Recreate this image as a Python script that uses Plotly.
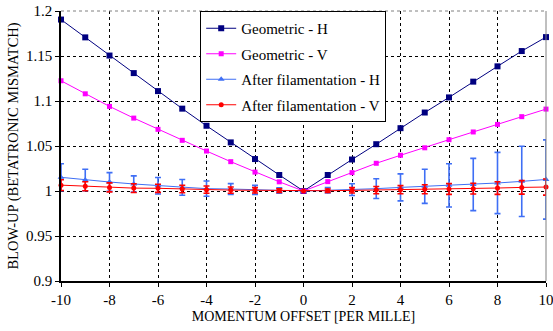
import plotly.graph_objects as go

x_vals = [-10, -9, -8, -7, -6, -5, -4, -3, -2, -1, 0, 1, 2, 3, 4, 5, 6, 7, 8, 9, 10]

geom_h = [1.1905, 1.1707, 1.1505, 1.131, 1.111, 1.0915, 1.0725, 1.054, 1.0355, 1.0178, 1.0,
          1.0178, 1.035, 1.052, 1.0698, 1.0872, 1.104, 1.1215, 1.1385, 1.1555, 1.171]
geom_v = [1.1225, 1.108, 1.094, 1.081, 1.0685, 1.0563, 1.0444, 1.0326, 1.021, 1.0102, 1.0,
          1.0104, 1.0204, 1.0308, 1.0397, 1.048, 1.057, 1.0656, 1.074, 1.0826, 1.091]
fil_h = [1.0152, 1.0122, 1.01, 1.0078, 1.0058, 1.004, 1.0026, 1.0022, 1.0012, 1.0005, 1.0,
         1.0008, 1.0015, 1.0026, 1.004, 1.0052, 1.0063, 1.0072, 1.0089, 1.0107, 1.0128]
fil_h_err = [0.015, 0.012, 0.0104, 0.009, 0.0092, 0.0088, 0.0085, 0.006, 0.005, 0.003, 0.0,
             0.003, 0.0065, 0.011, 0.015, 0.019, 0.024, 0.029, 0.034, 0.039, 0.044]
fil_v = [1.0065, 1.0052, 1.004, 1.0032, 1.003, 1.0022, 1.0015, 1.001, 1.0008, 1.0004, 1.0,
         1.0003, 1.0007, 1.001, 1.0015, 1.002, 1.0022, 1.0026, 1.0033, 1.004, 1.0044]
fil_v_err = [0.006, 0.005, 0.005, 0.0048, 0.0045, 0.0042, 0.004, 0.0035, 0.003, 0.002, 0.0,
             0.002, 0.003, 0.004, 0.0045, 0.005, 0.006, 0.006, 0.007, 0.0075, 0.009]

x_ticks = [-10, -8, -6, -4, -2, 0, 2, 4, 6, 8, 10]
y_ticks = [0.9, 0.95, 1.0, 1.05, 1.1, 1.15, 1.2]
y_ticklabels = ["0.9", "0.95", "1", "1.05", "1.1", "1.15", "1.2"]

FONT = "Times New Roman, Liberation Serif, serif"

fig = go.Figure()
fig.add_trace(go.Scatter(
    x=x_vals, y=geom_h, name="Geometric - H", mode="lines+markers",
    line=dict(color="#000080", width=1),
    marker=dict(symbol="square", size=6, color="#000080"),
    legendgroup="a", cliponaxis=False))
fig.add_trace(go.Scatter(
    x=x_vals, y=geom_v, name="Geometric - V", mode="lines+markers",
    line=dict(color="#FF00FF", width=1),
    marker=dict(symbol="square", size=5, color="#FF00FF"),
    legendgroup="b", cliponaxis=False))
fig.add_trace(go.Scatter(
    x=x_vals, y=fil_h, name="After filamentation - H", mode="lines+markers",
    line=dict(color="#3F6FF5", width=1),
    marker=dict(symbol="triangle-up", size=6, color="#3F6FF5"),
    error_y=dict(type="data", array=fil_h_err, visible=True, color="#3F6FF5",
                 thickness=1.6, width=3),
    legendgroup="c", cliponaxis=False))
fig.add_trace(go.Scatter(
    x=x_vals, y=fil_v, name="After filamentation - V", mode="lines+markers",
    line=dict(color="#FF0000", width=1),
    marker=dict(symbol="circle", size=5, color="#FF0000"),
    error_y=dict(type="data", array=fil_v_err, visible=True, color="#FF0000",
                 thickness=1.6, width=3),
    legendgroup="d", cliponaxis=False))

fig.update_layout(
    width=553, height=331,
    margin=dict(l=61, r=7, t=11, b=50, autoexpand=False),
    paper_bgcolor="white", plot_bgcolor="white",
    font=dict(family=FONT, size=15, color="black"),
    legend=dict(
        x=0.287, y=1.0, xanchor="left", yanchor="top",
        bgcolor="white", bordercolor="black", borderwidth=1,
        font=dict(family=FONT, size=15),
        tracegroupgap=3, traceorder="grouped",
    ),
    xaxis=dict(
        range=[-10, 10], tickvals=x_ticks, ticktext=[str(v) for v in x_ticks],
        showgrid=True, gridcolor="black", griddash="dot", gridwidth=1,
        showline=True, linecolor="black", linewidth=1.5,
        ticks="outside", ticklen=4, tickcolor="black",
        zeroline=False, automargin=False, ticklabeloverflow="allow",
        title=dict(text="MOMENTUM OFFSET [PER MILLE]", font=dict(family=FONT, size=14), standoff=4),
        tickfont=dict(size=15),
    ),
    yaxis=dict(
        range=[0.9, 1.2], tickvals=y_ticks, ticktext=y_ticklabels,
        showgrid=True, gridcolor="black", griddash="dot", gridwidth=1,
        showline=True, linecolor="black", linewidth=1.5,
        ticks="outside", ticklen=4, tickcolor="black",
        zeroline=False, automargin=False,
        title=dict(text="BLOW-UP (BETATRONIC MISMATCH)", font=dict(family=FONT, size=14.5), standoff=4),
        tickfont=dict(size=15),
    ),
)
fig.add_shape(type="line", xref="paper", yref="paper", x0=1, x1=1, y0=0, y1=1,
              line=dict(color="#808080", width=1))
fig.add_shape(type="line", xref="paper", yref="paper", x0=0, x1=1, y0=1, y1=1,
              line=dict(color="#808080", width=1, dash="dot"))

fig.write_html("out.html", config={"displayModeBar": False},
               post_script="document.body.style.margin='0';")
